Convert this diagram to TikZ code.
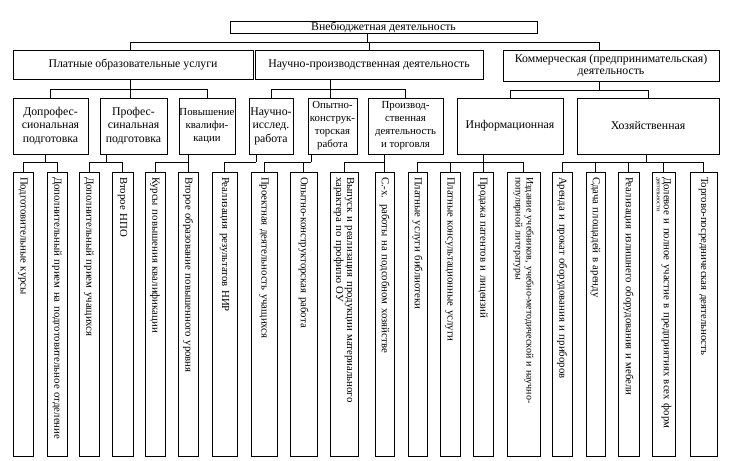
\documentclass[tikz,border=0pt]{standalone}
\usepackage{fontspec}
\setmainfont{Liberation Serif}
\newcommand\fsa{\fontsize{11.8}{12}\selectfont}
\newcommand\fsb{\fontsize{11.8}{13.5}\selectfont}
\newcommand\fsc{\fontsize{10.8}{13}\selectfont}
\newcommand\fsleaf{\fontsize{10.8}{11}\selectfont}
\newcommand\fsleafs{\fontsize{10}{11}\selectfont}
\tikzset{
  box/.style={draw, line width=0.8pt, inner sep=0pt, align=center},
  leaf/.style={draw, line width=0.8pt, rotate=-90, inner xsep=5pt, inner ysep=0pt,
    text width=274pt, align=left, font=\fsleaf},
  con/.style={line width=0.8pt}
}
\begin{document}
\begin{tikzpicture}[x=1pt,y=-1pt]
\useasboundingbox (0,0) rectangle (730,460);
\fill[white] (0,0) rectangle (730,460);
% level 1
\node[box, font=\fsa, minimum width=307pt, minimum height=12pt] (top) at (383.5,27) {Внебюджетная деятельность};
% level 2
\node[box, font=\fsa, minimum width=240pt, minimum height=29pt] (A) at (133,64.5) {Платные образовательные услуги};
\node[box, font=\fsa, minimum width=228pt, minimum height=29pt] (B) at (369,64.5) {Научно-производственная деятельность};
\node[box, font=\fsa, minimum width=216pt, minimum height=31pt] (C) at (611,65.5) {Коммерческая (предпринимательская)\\деятельность};
% level 3
\node[box, font=\fsb, minimum width=75pt, minimum height=56pt] (D1) at (50.5,126) {Допрофес-\\сиональная\\подготовка};
\node[box, font=\fsb, minimum width=67pt, minimum height=56pt] (D2) at (133.5,126) {Профес-\\синальная\\подготовка};
\node[box, font=\fsc, minimum width=56pt, minimum height=56pt] (D3) at (207,126) {Повышение\\квалифи-\\кации};
\node[box, font=\fsb, minimum width=44pt, minimum height=56pt] (D4) at (271,126) {Научно-\\исслед.\\работа};
\node[box, font=\fsc, minimum width=49pt, minimum height=56pt] (D5) at (332.5,126) {Опытно-\\конструк-\\торская\\работа};
\node[box, font=\fsc, minimum width=75pt, minimum height=56pt] (D6) at (405.5,126) {Производ-\\ственная\\деятельность\\и торговля};
\node[box, font=\fsb, minimum width=106pt, minimum height=56pt] (D7) at (510,126) {Информационная};
\node[box, font=\fsb, minimum width=142pt, minimum height=56pt] (D8) at (648,126) {Хозяйственная};
% leaves
\node[leaf, minimum height=20pt] (l1) at (23,314) {Подготовительные курсы};
\node[leaf, minimum height=20pt] (l2) at (57,314) {Дополнительный прием на подготовительное отделение};
\node[leaf, minimum height=20pt] (l3) at (89,314) {Дополнительный прием учащихся};
\node[leaf, minimum height=21pt] (l4) at (122.5,314) {Второе НПО};
\node[leaf, minimum height=20pt] (l5) at (155,314) {Курсы повышения квалификации};
\node[leaf, minimum height=20pt] (l6) at (188,314) {Второе образование повышенного уровня};
\node[leaf, minimum height=25pt] (l7) at (224.5,314) {Реализация результатов НИР};
\node[leaf, minimum height=26pt] (l8) at (264,314) {Проектная деятельность учащихся};
\node[leaf, minimum height=27pt] (l9) at (303.5,314) {Опытно-конструкторская работа};
\node[leaf, minimum height=28pt] (l10) at (344,314) {Выпуск и реализация продукции материального\\характера по профилю ОУ};
\node[leaf, minimum height=19pt] (l11) at (384.5,314) {С.-х. работы на подсобном хозяйстве};
\node[leaf, minimum height=19pt] (l12) at (417.5,314) {Платные услуги библиотеки};
\node[leaf, minimum height=20pt] (l13) at (450,314) {Платные консультационные услуги};
\node[leaf, minimum height=20pt] (l14) at (483,314) {Продажа патентов и лицензий};
\node[leaf, minimum height=33pt, font=\fsleafs] (l15) at (523.5,314) {Издание учебников, учебно-методической и научно-\\популярной литературы};
\node[leaf, minimum height=20pt] (l16) at (562,314) {Аренда и прокат оборудования и приборов};
\node[leaf, minimum height=19pt] (l17) at (595.5,314) {Сдача площадей в аренду};
\node[leaf, minimum height=21pt] (l18) at (628.5,314) {Реализация излишнего оборудования и мебели};
\node[leaf, minimum height=23pt] (l19) at (663.5,314) {Долевое и полное участие в предприятиях всех форм\\[-4pt]{\fontsize{6}{6}\selectfont деятельности}};
\node[leaf, minimum height=27pt] (l20) at (703.5,314) {Торгово-посредническая деятельность};
% junctions
\coordinate (j0) at (367,42);
\coordinate (ja) at (130,89);
\coordinate (jb) at (330,89);
\coordinate (jc) at (599,90);
\coordinate (j1) at (45,162);
\coordinate (j2) at (106,162);
\coordinate (j3) at (188,162);
\coordinate (j4) at (256,162);
\coordinate (j5) at (311,162);
\coordinate (j6) at (384.5,162);
\coordinate (j7) at (483,162);
\coordinate (j8) at (646,162);
% level 1 -> 2
\draw[con] (j0 |- top.south) -- (j0);
\draw[con] (j0) -| (ja |- A.north);
\draw[con] (j0) -| (B.north);
\draw[con] (j0) -| (jc |- C.north);
% level 2 -> 3
\draw[con] (ja |- A.south) -- (ja);
\draw[con] (ja) -| (D1.north);
\draw[con] (ja) -- (ja |- D2.north);
\draw[con] (ja) -| (D3.north);
\draw[con] (jb |- B.south) -- (jb);
\draw[con] (jb) -| (D4.north);
\draw[con] (jb) -- (jb |- D5.north);
\draw[con] (jb) -| (D6.north);
\draw[con] (jc |- C.south) -- (jc);
\draw[con] (jc) -| (D7.north);
\draw[con] (jc) -| (D8.north);
% level 3 -> leaves
\draw[con] (j1 |- D1.south) -- (j1);
\draw[con] (j1) -| (l1.west);
\draw[con] (j1) -| (l2.west);
\draw[con] (j2 |- D2.south) -- (j2);
\draw[con] (j2) -| (l3.west);
\draw[con] (j2) -| (l4.west);
\draw[con] (j3 |- D3.south) -- (j3);
\draw[con] (j3) -| (l5.west);
\draw[con] (j3) -- (l6.west);
\draw[con] (j4 |- D4.south) -- (j4);
\draw[con] (j4) -| (l7.west);
\draw[con] (j5 |- D5.south) -- (j5);
\draw[con] (j5) -| (l8.west);
\draw[con] (j5) -| (l9.west);
\draw[con] (j6 |- D6.south) -- (j6);
\draw[con] (j6) -| (l10.west);
\draw[con] (j6) -- (l11.west);
\draw[con] (j7 |- D7.south) -- (j7);
\draw[con] (j7) -| (l12.west);
\draw[con] (j7) -| (l13.west);
\draw[con] (j7) -- (l14.west);
\draw[con] (j7) -| (l15.west);
\draw[con] (j8 |- D8.south) -- (j8);
\draw[con] (j8) -| (l16.west);
\draw[con] (j8) -| (l17.west);
\draw[con] (j8) -| (l18.west);
\draw[con] (j8) -| (l19.west);
\draw[con] (j8) -| (l20.west);
\end{tikzpicture}
\end{document}
